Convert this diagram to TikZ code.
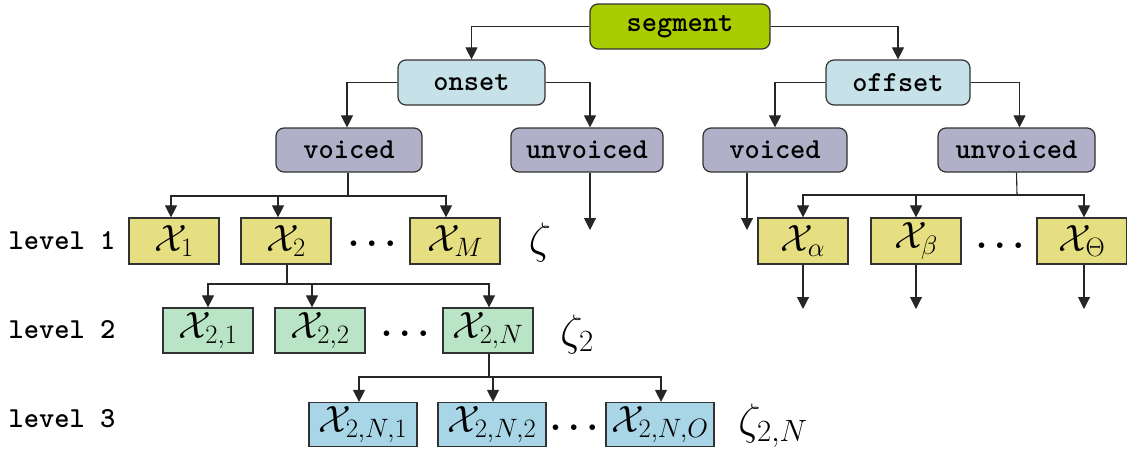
\RequirePackage{fix-cm}
\documentclass[tikz,border=0pt]{standalone}
\usepackage{fontspec}
\usetikzlibrary{arrows.meta,calc}
\definecolor{segcol}{RGB}{168,204,0}
\definecolor{onscol}{RGB}{198,226,232}
\definecolor{voicol}{RGB}{176,176,200}
\definecolor{lonecol}{RGB}{230,223,130}
\definecolor{ltwocol}{RGB}{186,228,198}
\definecolor{lthreecol}{RGB}{168,214,230}
\definecolor{edgecol}{RGB}{50,50,50}
\newcommand{\calX}{\mathcal{X}}
\begin{document}
\begin{tikzpicture}[x=1pt,y=-1pt,
  box/.style={draw=edgecol,line width=1.2pt,inner sep=0pt,minimum height=45pt},
  topbox/.style={box,rounded corners=8pt,font=\ttfamily\bfseries\fontsize{29}{34}\selectfont},
  mathfont/.style={font=\fontsize{38}{44}\selectfont},
  lone/.style={box,mathfont,fill=lonecol,minimum width=90pt,minimum height=46pt},
  ltwo/.style={box,mathfont,fill=ltwocol,minimum width=90pt,minimum height=45pt},
  lthree/.style={box,mathfont,fill=lthreecol,minimum width=108pt,minimum height=44pt},
  lvl/.style={font=\ttfamily\bfseries\fontsize{29}{34}\selectfont,inner sep=0pt},
  zeta/.style={font=\fontsize{44}{50}\selectfont,inner sep=0pt},
  dots/.style={font=\fontsize{36}{40}\selectfont\boldmath,inner sep=0pt},
  ln/.style={line width=1.1pt,draw=black!85},
  arr/.style={ln,-{Triangle[width=12pt,length=12pt]}}]
\useasboundingbox (0,0) rectangle (1127,450);
% top levels
\node[topbox,fill=segcol,minimum width=180pt] (seg) at (680,26.5) {segment};
\node[topbox,fill=onscol,minimum width=147pt] (onset) at (471.5,82.5) {onset};
\node[topbox,fill=onscol,minimum width=144pt] (offset) at (898,82.5) {offset};
\node[topbox,fill=voicol,minimum width=146pt,minimum height=44pt] (vL) at (349,150) {voiced};
\node[topbox,fill=voicol,minimum width=152pt,minimum height=44pt] (uvL) at (587,150) {unvoiced};
\node[topbox,fill=voicol,minimum width=144pt,minimum height=44pt] (vR) at (775,150) {voiced};
\node[topbox,fill=voicol,minimum width=157pt,minimum height=44pt] (uvR) at (1016.5,150) {unvoiced};
% level 1
\node[lone] (x1) at (174,241) {$\calX_1$};
\node[lone] (x2) at (286,241) {$\calX_2$};
\node[dots] (d1) at (372,244) {$\dots$};
\node[lone] (xM) at (455,241) {$\calX_M$};
\node[zeta] (z1) at (540,242) {$\zeta$};
\node[lone] (xa) at (803,241) {$\calX_\alpha$};
\node[lone] (xb) at (916,241) {$\calX_\beta$};
\node[dots] (d1r) at (1000,246) {$\dots$};
\node[lone] (xT) at (1082,241) {$\calX_\Theta$};
% level 2
\node[ltwo] (x21) at (208,330.5) {$\calX_{2,1}$};
\node[ltwo] (x22) at (320,330.5) {$\calX_{2,2}$};
\node[dots] (d2) at (405,334) {$\dots$};
\node[ltwo] (x2N) at (488,330.5) {$\calX_{2,N}$};
\node[zeta] (z2) at (577,334) {$\zeta_2$};
% level 3
\node[lthree] (x2N1) at (363,424.5) {$\calX_{2,N,1}$};
\node[lthree] (x2N2) at (492,424.5) {$\calX_{2,N,2}$};
\node[dots] (d3) at (574,428) {$\dots$};
\node[lthree] (x2NO) at (660,424.5) {$\calX_{2,N,O}$};
\node[zeta] (z3) at (773,426) {$\zeta_{2,N}$};
% level labels
\node[lvl] (lv1) at (62,241) {level 1};
\node[lvl] (lv2) at (62,330) {level 2};
\node[lvl] (lv3) at (62,419) {level 3};
% connectors top
\draw[arr] (seg.west) -| (onset.north);
\draw[arr] (seg.east) -| (offset.north);
\draw[arr] (onset.west) -| ([xshift=-2pt]vL.north);
\draw[arr] (onset.east) -| ([xshift=3pt]uvL.north);
\draw[arr] (offset.west) -| (vR.north);
\draw[arr] (offset.east) -| ([xshift=3pt]uvR.north);
\coordinate (uvLend) at (590,230);
\draw[arr] (uvLend |- uvL.south) -- (uvLend);
\coordinate (vRend) at (747,230);
\draw[arr] (vRend |- vR.south) -- (vRend);
% voiced left -> level 1
\coordinate (b1) at (348,196);
\draw[ln] ([xshift=-1pt]vL.south) -- (b1);
\draw[arr] (b1) -| ([xshift=-3pt]x1.north);
\draw[arr] (b1) -| ([xshift=-8pt]x2.north);
\draw[arr] (b1) -| ([xshift=-9pt]xM.north);
% unvoiced right -> level 1
\coordinate (b2) at (1017,195);
\draw[ln] (uvR.south) -- (b2);
\draw[arr] (b2) -| (xa.north);
\draw[arr] (b2) -| (xb.north);
\draw[arr] (b2) -| ([xshift=2pt]xT.north);
\coordinate (ea) at (803,309);
\coordinate (eb) at (916,309);
\coordinate (eT) at (1084,309);
\draw[arr] (xa.south) -- (ea);
\draw[arr] (xb.south) -- (eb);
\draw[arr] ([xshift=2pt]xT.south) -- (eT);
% x2 -> level 2
\coordinate (b3) at (287,284);
\draw[ln] ([xshift=1pt]x2.south) -- (b3);
\draw[arr] (b3) -| (x21.north);
\draw[arr] (b3) -| ([xshift=-8pt]x22.north);
\draw[arr] (b3) -| ([xshift=1pt]x2N.north);
% x2N -> level 3
\coordinate (b4) at (489,377);
\draw[ln] ([xshift=1pt]x2N.south) -- (b4);
\draw[arr] (b4) -| ([xshift=-4pt]x2N1.north);
\draw[arr] (b4) -| ([xshift=1pt]x2N2.north);
\draw[arr] (b4) -| ([xshift=1pt]x2NO.north);
\end{tikzpicture}
\end{document}
